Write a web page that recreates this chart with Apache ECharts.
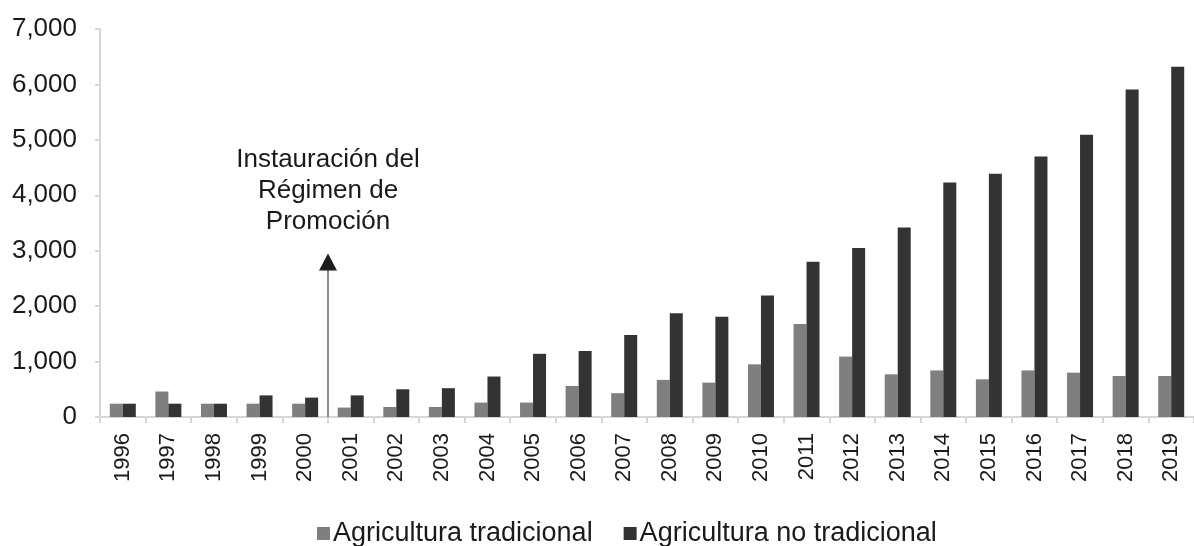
<!DOCTYPE html>
<html>
<head>
<meta charset="utf-8">
<script src="https://cdn.jsdelivr.net/npm/echarts@6/dist/echarts.min.js"></script>
<style>
  html, body { margin: 0; padding: 0; background: #fff; }
  #graph { width: 1194px; height: 546px; }
</style>
</head>
<body>
<div id="graph"></div>
<script>
  // años (eje X)
  var years = ["1996", "1997", "1998", "1999", "2000", "2001", "2002", "2003",
    "2004", "2005", "2006", "2007", "2008", "2009", "2010", "2011", "2012",
    "2013", "2014", "2015", "2016", "2017", "2018", "2019"];
  // valores
  var tradicional = [240, 460, 240, 240, 240, 170, 180, 180, 260, 260, 560, 430,
    670, 620, 950, 1680, 1090, 770, 840, 680, 840, 800, 740, 740];
  var noTradicional = [240, 240, 240, 390, 350, 390, 500, 520, 730, 1140, 1190,
    1480, 1870, 1810, 2190, 2800, 3050, 3420, 4230, 4390, 4700, 5090, 5910, 6320];
  var yTicks = [0, 1000, 2000, 3000, 4000, 5000, 6000, 7000];
  // anotación
  var notaTexto = "Instauración del\nRégimen de\nPromoción";
  var notaEntre = ["2000", "2001"];
  var notaFlecha = 2950;
  var notaTextoY = 4080;

  var font = "Liberation Sans, Arial, sans-serif";
  var myChart = echarts.init(document.getElementById('graph'));

  var option = {
    animation: false,
    textStyle: { fontFamily: font },
    grid: { left: 100, right: -9, top: 29, bottom: 129 },
    legend: {
      left: 317,
      top: 520,
      padding: 0,
      itemWidth: 13,
      itemHeight: 13,
      itemGap: 31,
      icon: "rect",
      textStyle: { fontSize: 27, color: "#1a1a1a", fontFamily: font, padding: [0, 0, 0, -2] },
      data: ["Agricultura tradicional", "Agricultura no tradicional"]
    },
    xAxis: {
      type: "category",
      data: years,
      axisLine: { lineStyle: { color: "#d6d6d6", width: 2 } },
      axisTick: { show: true, length: 6, lineStyle: { color: "#d6d6d6", width: 2 } },
      axisLabel: {
        rotate: 90,
        interval: 0,
        margin: 16,
        fontSize: 22,
        color: "#1a1a1a",
        fontFamily: font
      },
      splitLine: { show: false }
    },
    yAxis: {
      type: "value",
      min: yTicks[0],
      max: yTicks[yTicks.length - 1],
      interval: 1000,
      axisLine: { show: true, lineStyle: { color: "#d6d6d6", width: 2 } },
      axisTick: { show: true, length: 5, lineStyle: { color: "#d6d6d6", width: 2 } },
      splitLine: { show: false },
      axisLabel: {
        margin: 23,
        fontSize: 26,
        color: "#1a1a1a",
        fontFamily: font,
        formatter: function (v) { return v.toLocaleString("en-US"); }
      }
    },
    series: [
      {
        name: "Agricultura tradicional",
        type: "bar",
        data: tradicional,
        barWidth: 13,
        barGap: "0%",
        itemStyle: { color: "#7f7f7f" }
      },
      {
        name: "Agricultura no tradicional",
        type: "bar",
        data: noTradicional,
        barWidth: 13,
        barGap: "0%",
        itemStyle: { color: "#333333" }
      }
    ]
  };
  myChart.setOption(option);

  // flecha y texto de la anotación, ubicados con las escalas del gráfico
  var xa = myChart.convertToPixel({ xAxisIndex: 0 }, notaEntre[0]);
  var xb = myChart.convertToPixel({ xAxisIndex: 0 }, notaEntre[1]);
  var xm = Math.round((xa + xb) / 2);
  var y0 = myChart.convertToPixel({ yAxisIndex: 0 }, 0);
  var yTop = myChart.convertToPixel({ yAxisIndex: 0 }, notaFlecha);
  var yTxt = myChart.convertToPixel({ yAxisIndex: 0 }, notaTextoY);

  myChart.setOption({
    graphic: [
      {
        type: "line",
        shape: { x1: xm, y1: y0, x2: xm, y2: yTop + 14 },
        style: { stroke: "#8a8a8a", lineWidth: 2 },
        z: 10
      },
      {
        type: "polygon",
        shape: { points: [[xm, yTop], [xm - 9, yTop + 17], [xm + 9, yTop + 17]] },
        style: { fill: "#1e1e1e" },
        z: 10
      },
      {
        type: "text",
        x: xm,
        y: yTxt,
        style: {
          text: notaTexto,
          fontSize: 26,
          lineHeight: 31,
          fontFamily: font,
          fill: "#1a1a1a",
          align: "center",
          verticalAlign: "middle"
        },
        z: 10
      }
    ]
  });

  window.addEventListener("resize", function () {
    myChart.resize();
  });
</script>
</body>
</html>
